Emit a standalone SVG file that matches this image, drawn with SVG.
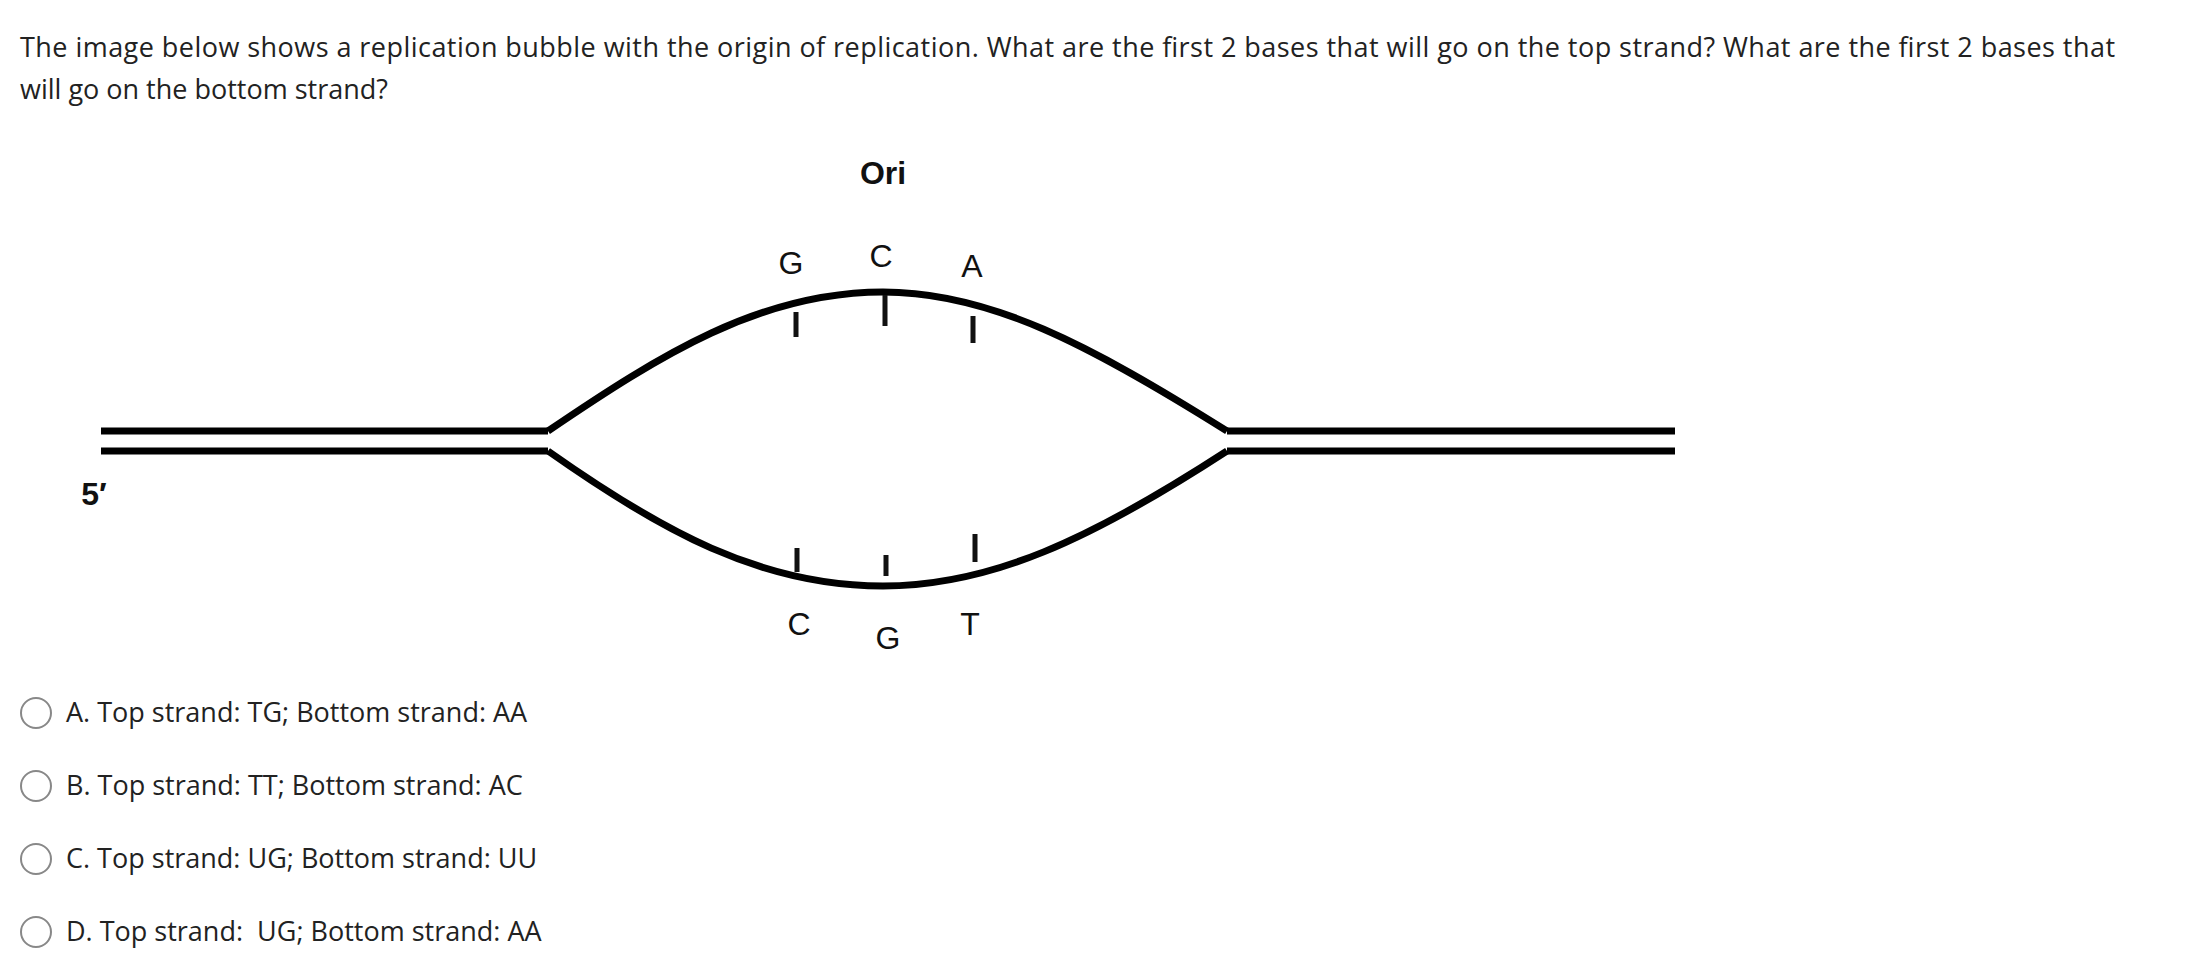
<svg xmlns="http://www.w3.org/2000/svg" width="2204" height="970" viewBox="0 0 2204 970">
<style>
.q{font-family:"Open Sans","Liberation Sans",sans-serif;font-size:27px;fill:#222}
.b{font-family:"Liberation Sans",Arial,sans-serif;font-size:32px;fill:#111;text-anchor:middle}
.s{stroke:#000;fill:none;stroke-width:7}
.t{stroke:#111;stroke-width:5}
.r{fill:#fff;stroke:#888;stroke-width:2}
</style>
<rect width="2204" height="970" fill="#fff"/>
<text class="q" x="20" y="57" textLength="2095">The image below shows a replication bubble with the origin of replication. What are the first 2 bases that will go on the top strand? What are the first 2 bases that</text>
<text class="q" x="20" y="99">will go on the bottom strand?</text>
<g id="diagram">
<path class="s" d="M101 431H548M101 451H548M1227 431H1675M1227 451H1675"/>
<path class="s" d="M548 431C660 355 760 292 883 292C990 292 1090 345 1227 431"/>
<path class="s" d="M548 451C660 530 760 586 883 586C990 586 1090 540 1227 451"/>
<path class="t" d="M796 312V337M885 295V326M973 316V343M797 548V572M886 555V576M975 534V562"/>
<text class="b" x="883" y="184" font-weight="bold" font-size="38">Ori</text>
<text class="b" x="791" y="274">G</text>
<text class="b" x="881" y="267">C</text>
<text class="b" x="972" y="277">A</text>
<text class="b" x="799" y="635">C</text>
<text class="b" x="888" y="649">G</text>
<text class="b" x="970" y="635">T</text>
<text class="b" x="94" y="505" font-weight="bold" font-size="28">5′</text>
</g>
<g id="options">
<circle class="r" cx="36" cy="713" r="15"/><text class="q" x="66" y="722">A. Top strand: TG; Bottom strand: AA</text>
<circle class="r" cx="36" cy="786" r="15"/><text class="q" x="66" y="795">B. Top strand: TT; Bottom strand: AC</text>
<circle class="r" cx="36" cy="859" r="15"/><text class="q" x="66" y="868">C. Top strand: UG; Bottom strand: UU</text>
<circle class="r" cx="36" cy="932" r="15"/><text class="q" x="66" y="941" xml:space="preserve">D. Top strand:  UG; Bottom strand: AA</text>
</g>
</svg>
